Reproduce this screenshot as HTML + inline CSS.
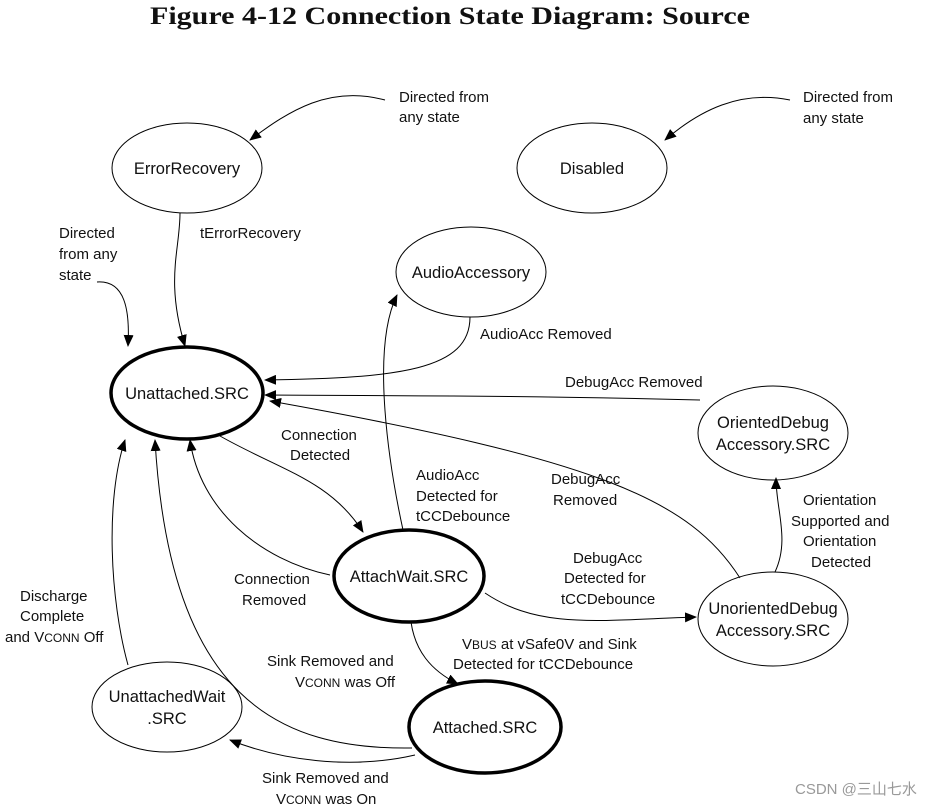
<!DOCTYPE html>
<html><head><meta charset="utf-8"><style>
html,body{margin:0;padding:0;background:#fff;}
svg{display:block;}
text{font-family:"Liberation Sans",sans-serif;font-size:15px;fill:#111;}
.t{font-family:"Liberation Serif",serif;font-weight:bold;font-size:25px;}
.n{font-size:16.5px;}
</style></head><body>
<svg width="946" height="807" viewBox="0 0 946 807" xmlns="http://www.w3.org/2000/svg">
<defs><marker id="a" markerWidth="12" markerHeight="10" refX="11" refY="5" orient="auto" markerUnits="userSpaceOnUse"><path d="M0,0 L12,5 L0,10 z" fill="#000"/></marker></defs>
<text class="t" x="150" y="24" textLength="600" lengthAdjust="spacingAndGlyphs">Figure 4-12  Connection State Diagram: Source</text>
<g fill="none" stroke="#000" stroke-width="1">
<ellipse cx="187" cy="168" rx="75" ry="45"/>
<ellipse cx="592" cy="168" rx="75" ry="45"/>
<ellipse cx="471" cy="272" rx="75" ry="45"/>
<ellipse cx="773" cy="433" rx="75" ry="47"/>
<ellipse cx="773" cy="619" rx="75" ry="47"/>
<ellipse cx="167" cy="707" rx="75" ry="45"/>
</g>
<g fill="none" stroke="#000" stroke-width="3.5">
<ellipse cx="187" cy="393" rx="76" ry="46"/>
<ellipse cx="409" cy="576" rx="75" ry="46"/>
<ellipse cx="485" cy="727" rx="76" ry="46"/>
</g>
<g fill="none" stroke="#000" stroke-width="1" marker-end="url(#a)">
<path d="M385,100 C330,85 290,110 250,140"/>
<path d="M790,100 C740,90 700,110 665,140"/>
<path d="M97,282 C125,280 130,310 128,346"/>
<path d="M180,213 C180,250 165,280 185,346"/>
<path d="M470,317 C470,370 400,378 265,380"/>
<path d="M700,400 C500,395 400,396 265,395"/>
<path d="M740,578 C690,500 600,460 270,401"/>
<path d="M775,572 C790,540 776,510 776,478"/>
<path d="M220,436 C280,470 330,480 363,532"/>
<path d="M403,530 C390,470 370,350 397,295"/>
<path d="M330,575 C260,560 200,510 190,440"/>
<path d="M485,593 C540,630 600,620 696,617"/>
<path d="M411,622 C415,650 430,670 458,684"/>
<path d="M128,665 C110,600 105,500 125,440"/>
<path d="M412,748 C280,750 170,700 155,440"/>
<path d="M415,755 C350,770 280,760 230,740"/>
</g>
<g class="n" text-anchor="middle">
<text class="n" x="187" y="174">ErrorRecovery</text>
<text class="n" x="592" y="174">Disabled</text>
<text class="n" x="471" y="278">AudioAccessory</text>
<text class="n" x="187" y="399">Unattached.SRC</text>
<text class="n" x="773" y="428">OrientedDebug</text>
<text class="n" x="773" y="450">Accessory.SRC</text>
<text class="n" x="409" y="582">AttachWait.SRC</text>
<text class="n" x="773" y="614">UnorientedDebug</text>
<text class="n" x="773" y="636">Accessory.SRC</text>
<text class="n" x="167" y="702">UnattachedWait</text>
<text class="n" x="167" y="724">.SRC</text>
<text class="n" x="485" y="733">Attached.SRC</text>
</g>
<g>
<text x="399" y="102">Directed from</text><text x="399" y="122">any state</text>
<text x="803" y="102">Directed from</text><text x="803" y="123">any state</text>
<text x="59" y="238">Directed</text><text x="59" y="259">from any</text><text x="59" y="280">state</text>
<text x="200" y="238">tErrorRecovery</text>
<text x="480" y="339">AudioAcc Removed</text>
<text x="565" y="387">DebugAcc Removed</text>
<text x="281" y="440">Connection</text><text x="290" y="460">Detected</text>
<text x="416" y="480">AudioAcc</text><text x="416" y="501">Detected for</text><text x="416" y="521">tCCDebounce</text>
<text x="551" y="484">DebugAcc</text><text x="553" y="505">Removed</text>
<text x="803" y="505">Orientation</text><text x="791" y="526">Supported and</text><text x="803" y="546">Orientation</text><text x="811" y="567">Detected</text>
<text x="573" y="563">DebugAcc</text><text x="564" y="583">Detected for</text><text x="561" y="604">tCCDebounce</text>
<text x="234" y="584">Connection</text><text x="242" y="605">Removed</text>
<text x="20" y="601">Discharge</text><text x="20" y="621">Complete</text><text x="5" y="642">and V<tspan font-size="12">CONN</tspan> Off</text>
<text x="462" y="649">V<tspan font-size="12">BUS</tspan> at vSafe0V and Sink</text><text x="453" y="669">Detected for tCCDebounce</text>
<text x="267" y="666">Sink Removed and</text><text x="295" y="687">V<tspan font-size="12">CONN</tspan> was Off</text>
<text x="262" y="783">Sink Removed and</text><text x="276" y="804">V<tspan font-size="12">CONN</tspan> was On</text>
<text x="795" y="794" style="fill:#999">CSDN @三山七水</text>
</g>
</svg>
</body></html>
